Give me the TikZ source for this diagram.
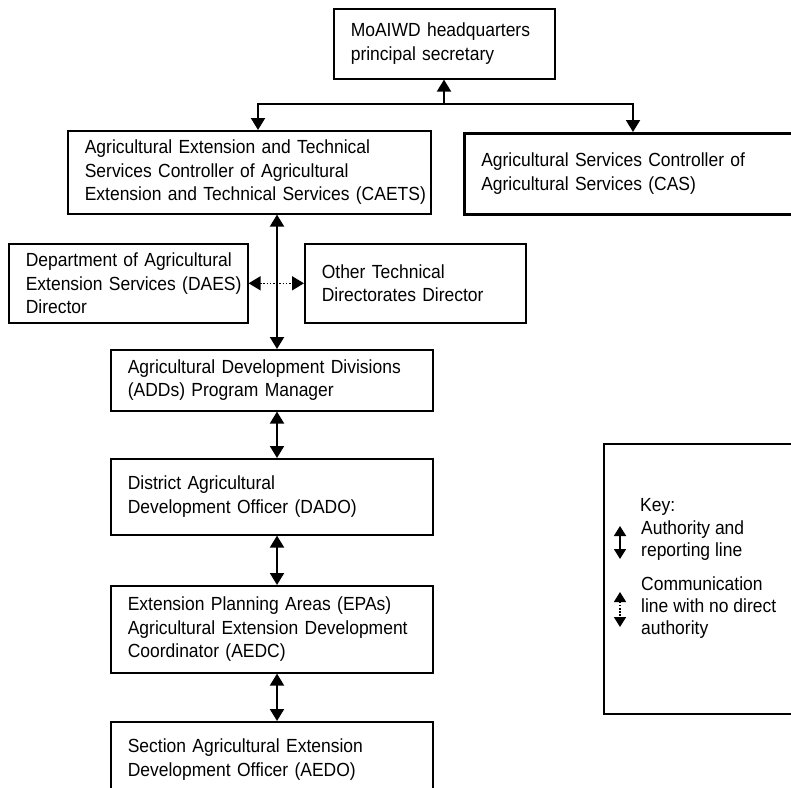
\documentclass[tikz,border=0pt]{standalone}
\usepackage{fontspec}
\setmainfont{Liberation Sans}[FakeStretch=0.92]
\usetikzlibrary{arrows.meta}

\begin{document}
\begin{tikzpicture}[x=1pt,y=-1pt]

\tikzset{
  BoxStyle/.style = { rectangle, draw, line width=1.6pt, anchor=north west,
                      inner xsep=0pt, inner ysep=0pt, align=left,
                      font=\fontsize{19}{23.5}\selectfont,
                      execute at begin node={\leftskip=17pt} },
  TextStyle/.style = { anchor=west, inner sep=0pt, align=left,
                       font=\fontsize{19}{22}\selectfont },
  LinkStyle/.style = { line width=2pt, >={Triangle[width=14pt,length=12pt]} },
  DotStyle/.style = { LinkStyle, line width=1.6pt, dash pattern=on 1.6pt off 1.6pt },
  KeyLink/.style = { line width=1.6pt, >={Triangle[width=12pt,length=10pt]} } }

  \useasboundingbox (0,0) rectangle (791,787);
  \clip (0,0) rectangle (791,787);

  \node[BoxStyle, text width=221pt, minimum height=70pt] (hq) at (333,8)
    {MoAIWD headquarters\\principal secretary};
  \node[BoxStyle, text width=363pt, minimum height=83pt] (caets) at (67,130)
    {Agricultural Extension and Technical\\Services Controller of Agricultural\\Extension and Technical Services (CAETS)};
  \node[BoxStyle, text width=340pt, minimum height=81pt, line width=2.5pt] (cas) at (463,132)
    {Agricultural Services Controller of\\Agricultural Services (CAS)};

  \node[BoxStyle, text width=239pt, minimum height=79pt] (daes) at (8,243)
    {Department of Agricultural\\Extension Services (DAES)\\Director};
  \node[BoxStyle, text width=221pt, minimum height=79pt] (other) at (304,243)
    {Other Technical\\Directorates Director};

  \node[BoxStyle, text width=322pt, minimum height=61pt] (add) at (110,349)
    {Agricultural Development Divisions\\(ADDs) Program Manager};
  \node[BoxStyle, text width=322pt, minimum height=76pt] (dado) at (110,458)
    {District Agricultural\\Development Officer (DADO)};
  \node[BoxStyle, text width=322pt, minimum height=87pt] (epa) at (110,585)
    {Extension Planning Areas (EPAs)\\Agricultural Extension Development\\Coordinator (AEDC)};
  \node[BoxStyle, text width=322pt, minimum height=76pt] (aedo) at (110,721)
    {Section Agricultural Extension\\Development Officer (AEDO)};

  % key
  \node[BoxStyle, text width=200pt, minimum height=270pt] (key) at (603,443) {};
  \node[TextStyle] (keyhead) at (640,507) {Key:};
  \node[TextStyle] (keyauth) at (641,541) {Authority and\\reporting line};
  \node[TextStyle] (keycomm) at (641,608) {Communication\\line with no direct\\authority};
  \coordinate (ka1) at (620,526);
  \coordinate (ka2) at (620,559);
  \coordinate (kc1) at (620,592);
  \coordinate (kc2) at (620,627);

  \coordinate (busl) at (258,104);
  \coordinate (busr) at (633,104);
  \coordinate (busm) at (444,104);
  \coordinate (spine) at (277,0);

  \draw[LinkStyle, <->] (caets.north -| busl) -- (busl) -- (busr) -- (cas.north -| busr);
  \draw[LinkStyle, ->] (busm) -- (hq.south -| busm);

  \draw[LinkStyle, <->] (caets.south -| spine) -- (add.north -| spine);
  \draw[DotStyle, <->] (daes.east) -- (other.west);
  \draw[LinkStyle, <->] (add.south -| spine) -- (dado.north -| spine);
  \draw[LinkStyle, <->] (dado.south -| spine) -- (epa.north -| spine);
  \draw[LinkStyle, <->] (epa.south -| spine) -- (aedo.north -| spine);

  \draw[KeyLink, <->] (ka1) -- (ka2);
  \draw[KeyLink, <->, dash pattern=on 1.6pt off 1.6pt] (kc1) -- (kc2);

\end{tikzpicture}
\end{document}
